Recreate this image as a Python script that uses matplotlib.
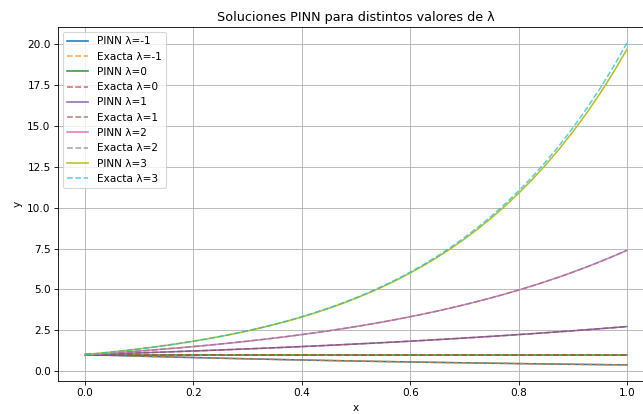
import numpy as np
import matplotlib
matplotlib.use("Agg")
import matplotlib.pyplot as plt

x = np.linspace(0, 1, 41)
lambdas = [-1, 0, 1, 2, 3]

y_neg1 = [1.000, 0.975, 0.951, 0.928, 0.905, 0.882, 0.861, 0.839, 0.819, 0.799,
          0.779, 0.760, 0.741, 0.723, 0.705, 0.687, 0.670, 0.654, 0.638, 0.622,
          0.607, 0.592, 0.577, 0.563, 0.549, 0.535, 0.522, 0.509, 0.497, 0.484,
          0.472, 0.461, 0.449, 0.438, 0.427, 0.417, 0.407, 0.397, 0.387, 0.377,
          0.368]
y_zero = [1.000] * 41
y_pos1 = [1.000, 1.025, 1.051, 1.078, 1.105, 1.133, 1.162, 1.191, 1.221, 1.252,
          1.284, 1.317, 1.350, 1.384, 1.419, 1.455, 1.492, 1.530, 1.568, 1.608,
          1.649, 1.690, 1.733, 1.777, 1.822, 1.868, 1.916, 1.964, 2.014, 2.065,
          2.117, 2.171, 2.226, 2.282, 2.340, 2.399, 2.460, 2.522, 2.586, 2.651,
          2.718]
y_pos2 = [1.000, 1.051, 1.105, 1.162, 1.221, 1.284, 1.350, 1.419, 1.492, 1.568,
          1.649, 1.733, 1.822, 1.916, 2.014, 2.117, 2.226, 2.340, 2.460, 2.586,
          2.718, 2.858, 3.004, 3.158, 3.320, 3.490, 3.669, 3.857, 4.055, 4.263,
          4.482, 4.711, 4.953, 5.207, 5.474, 5.755, 6.050, 6.360, 6.686, 7.029,
          7.389]
y_pos3_exact = [1.000, 1.078, 1.162, 1.252, 1.350, 1.455, 1.568, 1.690, 1.822,
                1.964, 2.117, 2.282, 2.460, 2.651, 2.858, 3.080, 3.320, 3.579,
                3.857, 4.158, 4.482, 4.831, 5.207, 5.613, 6.050, 6.521, 7.029,
                7.576, 8.166, 8.803, 9.488, 10.227, 11.023, 11.882, 12.807,
                13.804, 14.880, 16.038, 17.288, 18.634, 20.086]
y_pos3_pinn = [1.000, 1.078, 1.162, 1.252, 1.349, 1.454, 1.567, 1.688, 1.819,
               1.960, 2.112, 2.276, 2.453, 2.642, 2.847, 3.067, 3.305, 3.561,
               3.836, 4.133, 4.453, 4.797, 5.168, 5.568, 5.998, 6.461, 6.960,
               7.498, 8.077, 8.702, 9.376, 10.100, 10.880, 11.718, 12.620,
               13.593, 14.640, 15.765, 16.980, 18.290, 19.700]

# Network predictions and analytical solutions for each λ
pinn = {-1: y_neg1, 0: y_zero, 1: y_pos1, 2: y_pos2, 3: y_pos3_pinn}
exact = {-1: y_neg1, 0: y_zero, 1: y_pos1, 2: y_pos2, 3: y_pos3_exact}

W, H, DPI = 643, 414, 75.7
fig = plt.figure(figsize=(W / DPI, H / DPI), dpi=DPI)
ax = fig.add_axes([58 / W, (H - 381) / H, (654 - 58) / W, (381 - 27) / H])

for lam in lambdas:
    ax.plot(x, pinn[lam], label=f"PINN λ={lam}")
    ax.plot(x, exact[lam], "--", label=f"Exacta λ={lam}", alpha=0.7)

ax.set_title("Soluciones PINN para distintos valores de λ", fontsize=12.2)
ax.set_xlabel("x")
ax.set_ylabel("y")
ax.grid(True)
ax.legend(loc="upper left")
fig.savefig("out.png", dpi=DPI)
